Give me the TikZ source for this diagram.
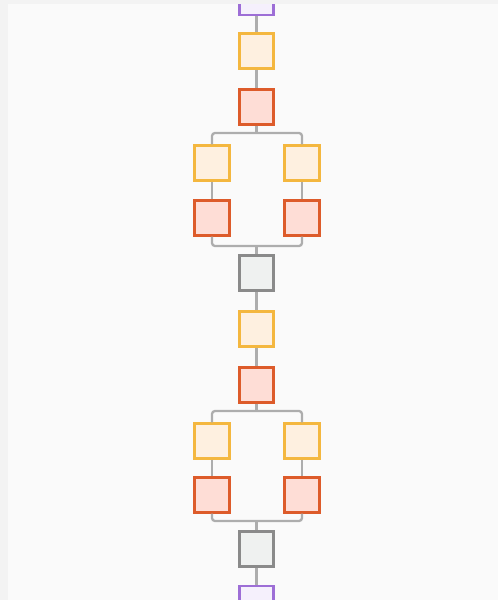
\documentclass[tikz,border=0pt]{standalone}
\definecolor{bg}{HTML}{FAFAFA}
\definecolor{bgedge}{HTML}{F3F3F3}
\definecolor{ylwB}{HTML}{F4B73F}
\definecolor{ylwF}{HTML}{FEF0E0}
\definecolor{redB}{HTML}{DD5B2A}
\definecolor{redF}{HTML}{FEDDD6}
\definecolor{gryB}{HTML}{8A8A8A}
\definecolor{gryF}{HTML}{EFF1F0}
\definecolor{purB}{HTML}{9D6ED6}
\definecolor{purF}{HTML}{F5F0FC}
\definecolor{conC}{HTML}{ADADAD}
\tikzset{
  box/.style={minimum size=34.5pt, inner sep=0pt, line width=2.8pt},
  ybox/.style={box, draw=ylwB, fill=ylwF},
  rbox/.style={box, draw=redB, fill=redF},
  gbox/.style={box, draw=gryB, fill=gryF},
  pbox/.style={minimum width=34.5pt, minimum height=40pt, inner sep=0pt, line width=2.8pt, draw=purB, fill=purF},
  conn/.style={draw=conC, line width=2.3pt, rounded corners=3pt},
}
\begin{document}
\begin{tikzpicture}[x=1pt,y=-1pt]
\useasboundingbox (0,0) rectangle (498,600);
\fill[bg] (0,0) rectangle (498,600);
\begin{scope}
\clip (0,0) rectangle (498,600);
\node[pbox] (ptop) at (256.5,-5) {};
\node[pbox] (pbot) at (256.5,606) {};
\node[ybox] (y1) at (256.5,51) {};
\node[rbox] (r1) at (256.5,107) {};
\coordinate (s1) at (256.5,133);
\node[ybox] (ly1) at (212,163) {};
\node[ybox] (ry1) at (302,163) {};
\node[rbox] (lr1) at (212,218) {};
\node[rbox] (rr1) at (302,218) {};
\coordinate (m1) at (256.5,246);
\node[gbox] (g1) at (256.5,273) {};
\node[ybox] (y2) at (256.5,329) {};
\node[rbox] (r2) at (256.5,385) {};
\coordinate (s2) at (256.5,411);
\node[ybox] (ly2) at (212,441) {};
\node[ybox] (ry2) at (302,441) {};
\node[rbox] (lr2) at (212,495) {};
\node[rbox] (rr2) at (302,495) {};
\coordinate (m2) at (256.5,521);
\node[gbox] (g2) at (256.5,549) {};
\path[conn] (ptop.south) -- (y1.north);
\path[conn] (y1.south) -- (r1.north);
\path[conn] (r1.south) -- (s1);
\path[conn] (ly1.north) |- (s1) -| (ry1.north);
\path[conn] (ly1.south) -- (lr1.north);
\path[conn] (ry1.south) -- (rr1.north);
\path[conn] (lr1.south) |- (m1) -| (rr1.south);
\path[conn] (m1) -- (g1.north);
\path[conn] (g1.south) -- (y2.north);
\path[conn] (y2.south) -- (r2.north);
\path[conn] (r2.south) -- (s2);
\path[conn] (ly2.north) |- (s2) -| (ry2.north);
\path[conn] (ly2.south) -- (lr2.north);
\path[conn] (ry2.south) -- (rr2.north);
\path[conn] (lr2.south) |- (m2) -| (rr2.south);
\path[conn] (m2) -- (g2.north);
\path[conn] (g2.south) -- (pbot.north);
\end{scope}
\fill[bgedge] (0,0) rectangle (498,4);
\fill[bgedge] (0,0) rectangle (8,600);
\end{tikzpicture}
\end{document}
